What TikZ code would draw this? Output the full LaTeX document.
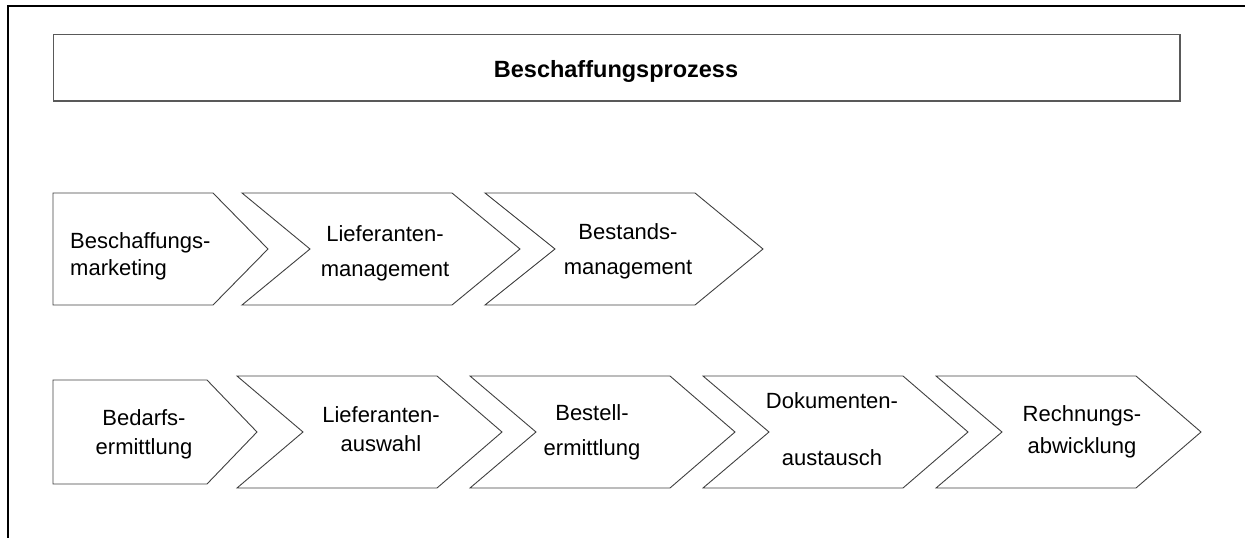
\documentclass[tikz,border=0pt]{standalone}
\usepackage{fontspec}
\setmainfont{Liberation Sans}
\begin{document}
\begin{tikzpicture}[x=1pt,y=-1pt,
  frameline/.style={line width=2.2pt,black},
  titlebox/.style={draw=black!65,line width=1.3pt},
  chevron/.style={draw=black!75,line width=0.9pt,line join=miter},
  steptext/.style={font=\fontsize{22}{27}\selectfont,anchor=base,inner sep=0pt},
  titletext/.style={font=\fontsize{23.5}{28}\selectfont\bfseries,anchor=base,inner sep=0pt}]
\useasboundingbox (0,0) rectangle (1245,538);

% outer frame: only top and left edges
\draw[frameline] (7.8,538) -- (7.8,6.3) -- (1245,6.3);

% title bar
\draw[titlebox] (53.5,34.5) rectangle (1180,101);
\node[titletext] (title) at (616,77) {Beschaffungsprozess};

% ---- first row of process steps ----
\draw[chevron] (53,193) -- (213,193) -- (268,249) -- (213,305) -- (53,305) -- cycle;
\draw[chevron] (242,193) -- (452,193) -- (520,249) -- (452,305) -- (242,305) -- (310,249) -- cycle;
\draw[chevron] (485,193) -- (695,193) -- (763,249) -- (695,305) -- (485,305) -- (555,249) -- cycle;

\node[steptext,anchor=base west] (a1) at (70,248)
  {\begin{tabular}[t]{@{}l@{}}Beschaffungs-\\marketing\end{tabular}};
\node[steptext] (a2) at (385,241)
  {\begin{tabular}[t]{@{}c@{}}Lieferanten-\\[8pt]management\end{tabular}};
\node[steptext] (a3) at (628,239)
  {\begin{tabular}[t]{@{}c@{}}Bestands-\\[8pt]management\end{tabular}};

% ---- second row of process steps ----
\draw[chevron] (53,380) -- (207,380) -- (257,432) -- (207,484) -- (53,484) -- cycle;
\foreach \k in {0,1,2,3}{
  \pgfmathsetmacro\lx{237+233*\k}
  \draw[chevron] (\lx,376) -- (\lx+200,376) -- (\lx+265,432) -- (\lx+200,488)
    -- (\lx,488) -- (\lx+66,432) -- cycle;
}

\node[steptext] (b1) at (144,425)
  {\begin{tabular}[t]{@{}c@{}}Bedarfs-\\[2pt]ermittlung\end{tabular}};
\node[steptext] (b2) at (381,422)
  {\begin{tabular}[t]{@{}c@{}}Lieferanten-\\[2pt]auswahl\end{tabular}};
\node[steptext] (b3) at (592,420)
  {\begin{tabular}[t]{@{}c@{}}Bestell-\\[8pt]ermittlung\end{tabular}};
\node[steptext] (b4) at (832,408)
  {\begin{tabular}[t]{@{}c@{}}Dokumenten-\\[30pt]austausch\end{tabular}};
\node[steptext] (b5) at (1082,421)
  {\begin{tabular}[t]{@{}c@{}}Rechnungs-\\[5pt]abwicklung\end{tabular}};
\end{tikzpicture}
\end{document}
